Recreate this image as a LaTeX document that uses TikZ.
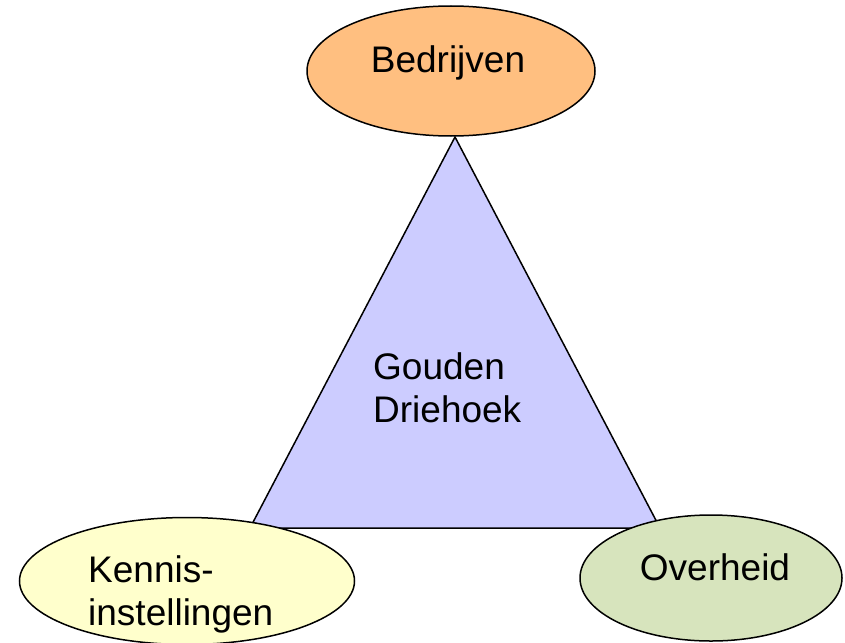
\documentclass[tikz,border=0pt]{standalone}
\usepackage{fontspec}
\setmainfont{Liberation Sans}
\usepackage{tikz}
\usetikzlibrary{shapes.geometric}
\definecolor{oranje}{RGB}{255,191,128}
\definecolor{lila}{RGB}{204,204,255}
\definecolor{geel}{RGB}{255,255,204}
\definecolor{groen}{RGB}{215,228,189}
\newcommand{\groot}{\fontsize{37}{43}\selectfont}

\begin{document}
\begin{tikzpicture}[x=1pt,y=-1pt,
	partij/.style={ellipse, draw=black, line width=1.5pt, inner sep=0pt},
	tekst/.style={inner sep=0pt, font=\groot, align=left}]
	\useasboundingbox (0,0) rectangle (845,642);

	\coordinate (top) at (455,137);
	\coordinate (links) at (250,528);
	\coordinate (rechts) at (660,528);
	\filldraw[fill=lila, draw=black, line width=1.5pt] (top) -- (links) -- (rechts) -- cycle;
	\node[tekst, anchor=base west] (gouden) at (373,422) {Gouden\\Driehoek};

	\node[partij, fill=oranje, minimum width=288pt, minimum height=130pt] (bedrijven) at (451,71) {};
	\node[tekst, anchor=base] (tbedrijven) at (448,72) {Bedrijven};

	\node[partij, fill=geel, minimum width=335pt, minimum height=127pt] (kennis) at (187,581) {};
	\node[tekst, anchor=base west] (tkennis) at (88,625) {Kennis-\\instellingen};

	\node[partij, fill=groen, minimum width=262pt, minimum height=126pt] (overheid) at (711,578) {};
	\node[tekst, anchor=base] (toverheid) at (715,580) {Overheid};

\end{tikzpicture}
\end{document}
